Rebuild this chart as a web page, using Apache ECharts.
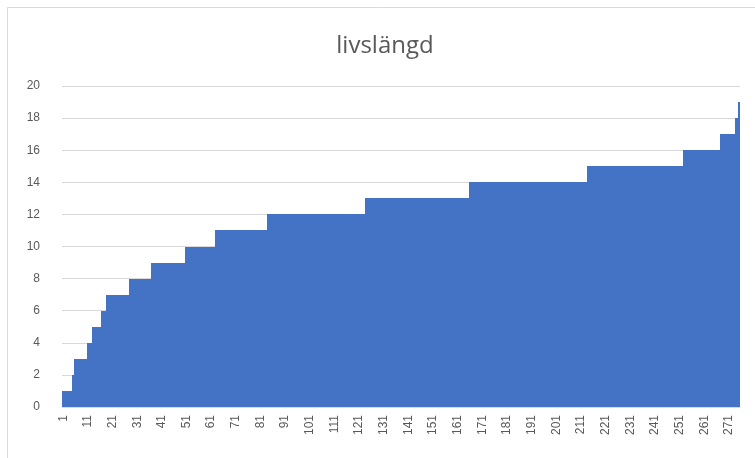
<!DOCTYPE html>
<html>
<head>
<meta charset="utf-8">
<script src="https://cdn.jsdelivr.net/npm/echarts@6/dist/echarts.min.js"></script>
<style>
html,body{margin:0;padding:0;background:#fff;}
#c{width:755px;height:458px;}
</style>
</head>
<body>
<div id="c"></div>
<script>
var title = "livslängd";
var yTicks = [0, 2, 4, 6, 8, 10, 12, 14, 16, 18, 20];
var values = [
  1,1,1,1,
  2,
  3,3,3,3,3,
  4,4,
  5,5,5,5,
  6,6,
  7,7,7,7,7,7,7,7,7,
  8,8,8,8,8,8,8,8,8,
  9,9,9,9,9,9,9,9,9,9,9,9,9,9,
  10,10,10,10,10,10,10,10,10,10,10,10,
  11,11,11,11,11,11,11,11,11,11,11,11,11,11,11,11,11,11,11,11,11,
  12,12,12,12,12,12,12,12,12,12,12,12,12,12,12,12,12,12,12,12,
  12,12,12,12,12,12,12,12,12,12,12,12,12,12,12,12,12,12,12,12,
  13,13,13,13,13,13,13,13,13,13,13,13,13,13,13,13,13,13,13,13,13,
  13,13,13,13,13,13,13,13,13,13,13,13,13,13,13,13,13,13,13,13,13,
  14,14,14,14,14,14,14,14,14,14,14,14,14,14,14,14,14,14,14,14,
  14,14,14,14,14,14,14,14,14,14,14,14,14,14,14,14,14,14,14,14,
  14,14,14,14,14,14,14,14,
  15,15,15,15,15,15,15,15,15,15,15,15,15,15,15,15,15,15,15,15,
  15,15,15,15,15,15,15,15,15,15,15,15,15,15,15,15,15,15,15,
  16,16,16,16,16,16,16,16,16,16,16,16,16,16,16,
  17,17,17,17,17,17,
  18,
  19
];
var categories = values.map(function (v, i) { return String(i + 1); });

var chart = echarts.init(document.getElementById('c'), null, {renderer: 'canvas'});
chart.setOption({
  animation: false,
  backgroundColor: '#ffffff',
  graphic: [{
    type: 'rect',
    shape: {x: 7.5, y: 7.5, width: 800, height: 500},
    style: {fill: 'none', stroke: '#d9d9d9', lineWidth: 1},
    silent: true
  }],
  title: {
    text: title,
    left: 380,
    textAlign: 'center',
    top: 29,
    textStyle: {fontFamily: 'Open Sans', fontSize: 24, fontWeight: 'normal', color: '#595959'}
  },
  grid: {left: 62, right: 15, top: 86, bottom: 51, containLabel: false},
  xAxis: {
    type: 'category',
    data: categories,
    boundaryGap: true,
    axisLine: {show: true, lineStyle: {color: '#d9d9d9'}},
    axisTick: {show: false},
    axisLabel: {
      interval: 9,
      rotate: 90,
      margin: 8,
      fontFamily: 'Liberation Sans',
      fontSize: 12,
      color: '#595959'
    }
  },
  yAxis: {
    type: 'value',
    min: yTicks[0],
    max: yTicks[yTicks.length - 1],
    interval: 2,
    axisLine: {show: false},
    axisTick: {show: false},
    axisLabel: {fontFamily: 'Liberation Sans', fontSize: 12, color: '#595959', margin: 22},
    splitLine: {lineStyle: {color: '#d9d9d9', width: 1}}
  },
  series: [{
    type: 'custom',
    data: values.map(function (v, i) { return [i, v]; }),
    encode: {x: 0, y: 1},
    renderItem: function (params, api) {
      var top = api.coord([api.value(0), api.value(1)]);
      var base = api.coord([api.value(0), 0]);
      var w = api.size([1, 0])[0];
      var x0 = Math.round(top[0] - w / 2);
      var x1 = Math.round(top[0] + w / 2);
      var y0 = Math.round(top[1]);
      var y1 = Math.round(base[1]);
      return {
        type: 'rect',
        shape: {x: x0, y: y0, width: x1 - x0, height: y1 - y0},
        style: {fill: '#4472C4'}
      };
    }
  }]
});
</script>
</body>
</html>
